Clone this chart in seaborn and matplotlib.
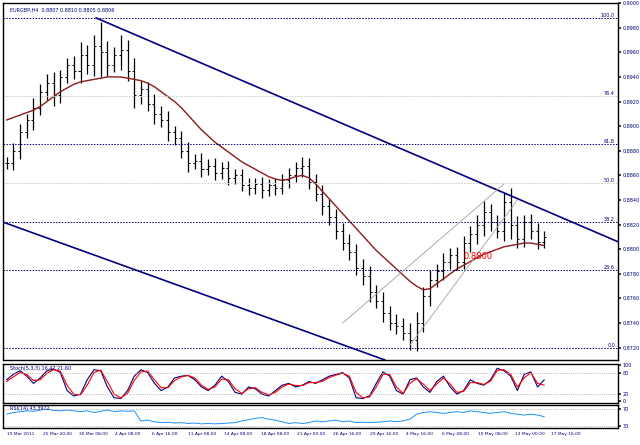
import numpy as np
import pandas as pd
import matplotlib
matplotlib.use("Agg")
import matplotlib.pyplot as plt
import seaborn as sns

sns.set_theme(style="white")
plt.rcParams['font.family'] = ['DejaVu Sans']

closes = [0.8870,0.8880,0.8895,0.8905,0.8915,0.8928,0.8935,0.8925,0.8940,0.8950,
          0.8945,0.8958,0.8950,0.8965,0.8960,0.8950,0.8958,0.8962,0.8945,0.8925,
          0.8930,0.8918,0.8910,0.8905,0.8895,0.8890,0.8880,0.8870,0.8872,0.8865,
          0.8868,0.8862,0.8866,0.8858,0.8860,0.8852,0.8850,0.8853,0.8848,0.8852,
          0.8850,0.8856,0.8860,0.8866,0.8868,0.8855,0.8845,0.8835,0.8826,0.8815,
          0.8805,0.8798,0.8785,0.8778,0.8765,0.8758,0.8748,0.8740,0.8738,0.8732,
          0.8726,0.8740,0.8762,0.8775,0.8782,0.8790,0.8795,0.8790,0.8805,0.8812,
          0.8820,0.8830,0.8822,0.8815,0.8838,0.8820,0.8808,0.8822,0.8815,0.8806,0.8810]
wick = [10,12,14,10,16,12,14,18,12,10,14,20,16,18,40,18,12,24,16,20,
        14,12,16,12,14,10,12,14,10,12,10,12,10,12,10,10,12,10,12,10,
        12,10,12,10,14,12,12,14,12,14,12,14,12,14,16,12,14,12,14,12,
        16,18,14,16,12,14,12,14,12,14,16,18,14,12,16,24,14,12,14,12,10]
ma = [0.8905,0.8907,0.8909,0.8911,0.8913,0.8916,0.8920,0.8924,0.8928,0.8931,
      0.8934,0.8936,0.8937,0.8938,0.8939,0.8940,0.8940,0.8940,0.8939,0.8938,
      0.8937,0.8935,0.8932,0.8928,0.8924,0.8920,0.8915,0.8909,0.8903,0.8897,
      0.8892,0.8887,0.8883,0.8879,0.8875,0.8871,0.8868,0.8865,0.8862,0.8859,
      0.8857,0.8856,0.8857,0.8859,0.8860,0.8858,0.8853,0.8847,0.8841,0.8835,
      0.8829,0.8823,0.8817,0.8811,0.8805,0.8799,0.8794,0.8789,0.8784,0.8779,
      0.8774,0.8770,0.8767,0.8768,0.8772,0.8776,0.8780,0.8784,0.8787,0.8790,
      0.8793,0.8796,0.8798,0.8800,0.8802,0.8803,0.8804,0.8805,0.8805,0.8804,0.8803]
stoch_k = [60,75,85,70,50,65,85,90,80,30,15,20,60,88,85,40,10,8,30,70,
           88,80,50,30,40,65,70,72,60,40,30,45,70,55,25,20,40,35,20,15,
           30,45,50,40,45,55,50,60,70,75,80,65,10,8,15,50,82,70,30,20,
           60,65,40,25,55,70,40,20,30,60,50,45,60,92,85,70,30,75,82,40,60]
stoch_d = [55,68,80,75,58,60,78,88,84,45,20,18,45,80,87,55,20,10,22,58,
           82,84,60,38,38,58,68,72,65,45,33,40,62,60,35,22,35,38,25,18,
           25,40,48,44,44,52,52,56,66,73,78,70,25,10,12,40,75,75,40,22,
           50,63,48,30,48,65,48,25,28,52,52,47,56,86,88,75,40,65,80,50,45]
rsi = [58,62,64,66,65,68,70,67,66,68,66,64,66,62,65,68,64,66,65,66,
       42,44,40,38,39,37,38,36,37,35,36,35,36,37,38,42,45,48,50,46,
       44,40,36,38,36,38,42,40,42,44,40,42,38,39,38,39,40,42,40,42,
       46,58,62,64,62,60,62,64,62,66,64,62,60,62,64,60,58,56,58,56,52]
fib_levels = [0.0, 23.6, 38.2, 50.0, 61.8, 76.4, 100.0]
fib_low, fib_high = 0.8720, 0.8988
x_labels = ["19 Mar 2011","25 Mar 20:00","30 Mar 08:00","4 Apr 08:00","6 Apr 16:00",
            "11 Apr 08:00","14 Apr 08:00","18 Apr 08:00","21 Apr 00:00","26 Apr 16:00",
            "29 Apr 16:00","4 May 16:00","6 May 08:00","10 May 08:00","13 May 00:00","17 May 16:00"]

navy = "#00007f"
fig = plt.figure(figsize=(6.4, 4.45), dpi=100)
ax = fig.add_axes([0.005, 0.191, 0.961, 0.802])
ax2 = fig.add_axes([0.005, 0.094, 0.961, 0.089], sharex=ax)
ax3 = fig.add_axes([0.005, 0.038, 0.961, 0.052], sharex=ax)

n = len(closes)
x = np.arange(n)
opens = [closes[0]] + closes[:-1]
for i in range(n):
    hi = max(opens[i], closes[i]) + wick[i] * 0.00005
    lo = min(opens[i], closes[i]) - wick[i] * 0.00005
    ax.vlines(x[i], lo, hi, color="black", lw=0.9)
    ax.hlines(opens[i], x[i] - 0.3, x[i], color="black", lw=0.7)
    ax.hlines(closes[i], x[i], x[i] + 0.3, color="black", lw=0.7)
sns.lineplot(x=x, y=ma, ax=ax, color="#8b1a1a", lw=1.0)

xmax = 91
ax.set_xlim(-0.5, xmax)
ax.set_ylim(0.8710, 0.9000)
for lv in fib_levels:
    p = fib_low + (fib_high - fib_low) * lv / 100
    c = "#c8c8c8" if lv in (50.0, 76.4) else navy
    ax.axhline(p, color=c, ls=(0, (1.5, 1.5)), lw=0.7)
    ax.text(xmax - 0.5, p, f"{lv:.1f}", color=navy, fontsize=3.5, ha="right", va="bottom")
# trend channel
ax.plot([13.3, xmax], [0.8988, 0.8806], color=navy, lw=1.2)
ax.plot([-0.5, 56.3], [0.8822, 0.8710], color=navy, lw=1.2)
ax.plot([50, 74], [0.8740, 0.8853], color="#a0a0a0", lw=0.6)
ax.plot([60, 76], [0.8722, 0.8840], color="#a0a0a0", lw=0.6)
ax.text(68, 0.8792, "0.8800", color="red", fontsize=6)
ax.text(0.5, 0.8996, "EURGBP,H4  0.8807 0.8810 0.8805 0.8806", color=navy, fontsize=3.5, va="top")
ticks = np.arange(0.8720, 0.9000, 0.0020)
ax.yaxis.tick_right()
ax.set_yticks(ticks)
ax.set_yticklabels([f"{t:.4f}" for t in ticks], fontsize=3.5, color=navy)
ax.tick_params(axis="x", bottom=False, labelbottom=False)
ax.tick_params(axis="y", length=2, pad=1)

sns.lineplot(x=x, y=stoch_k, ax=ax2, color=navy, lw=0.8)
sns.lineplot(x=x, y=stoch_d, ax=ax2, color="red", lw=0.8)
for lv in (20, 80):
    ax2.axhline(lv, color="#a0a0a0", ls=":", lw=0.6)
ax2.set_ylim(-5, 105)
ax2.yaxis.tick_right()
ax2.set_yticks([0, 20, 80, 100])
ax2.set_yticklabels(["0", "20", "80", "100"], fontsize=3.5, color=navy)
ax2.text(0.5, 98, "Stoch(5,3,3) 16.47 21.60", fontsize=3.5, color=navy, va="top")
ax2.tick_params(axis="x", bottom=False, labelbottom=False)
ax2.tick_params(axis="y", length=2, pad=1)

sns.lineplot(x=x, y=rsi, ax=ax3, color="#1e90ff", lw=0.7)
for lv in (30, 70):
    ax3.axhline(lv, color="#a0a0a0", ls=":", lw=0.6)
ax3.set_ylim(25, 80)
ax3.yaxis.tick_right()
ax3.set_yticks([30, 70])
ax3.set_yticklabels(["30", "70"], fontsize=3.5, color=navy)
ax3.text(0.5, 78, "RSI(14) 43.3972", fontsize=3.5, color=navy, va="top")
pos = np.linspace(0, 81, len(x_labels))
ax3.set_xticks(pos)
ax3.set_xticklabels(x_labels, fontsize=3.2, color=navy, ha="left")
ax3.tick_params(axis="x", length=2, pad=1)
ax3.tick_params(axis="y", length=2, pad=1)
for a in (ax, ax2, ax3):
    a.set_ylabel(""); a.set_xlabel("")
    for s in a.spines.values():
        s.set_color("black"); s.set_linewidth(1.0)
fig.savefig("out.png", dpi=100)
